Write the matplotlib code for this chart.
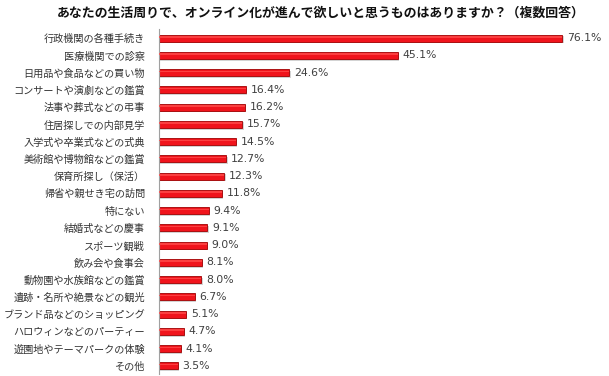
import matplotlib
matplotlib.use("Agg")
import matplotlib.pyplot as plt
import numpy as np

plt.rcParams['font.family'] = ['Noto Sans CJK JP', 'DejaVu Sans']

categories = [
    "行政機関の各種手続き", "医療機関での診察", "日用品や食品などの買い物",
    "コンサートや演劇などの鑑賞", "法事や葬式などの弔事", "住居探しでの内部見学",
    "入学式や卒業式などの式典", "美術館や博物館などの鑑賞", "保育所探し（保活）",
    "帰省や親せき宅の訪問", "特にない", "結婚式などの慶事", "スポーツ観戦",
    "飲み会や食事会", "動物園や水族館などの鑑賞", "遺跡・名所や絶景などの観光",
    "ブランド品などのショッピング", "ハロウィンなどのパーティー",
    "遊園地やテーマパークの体験", "その他",
]
values = [76.1, 45.1, 24.6, 16.4, 16.2, 15.7, 14.5, 12.7, 12.3, 11.8,
          9.4, 9.1, 9.0, 8.1, 8.0, 6.7, 5.1, 4.7, 4.1, 3.5]
title = "あなたの生活周りで、オンライン化が進んで欲しいと思うものはありますか？（複数回答）"

n = len(categories)
fig = plt.figure(figsize=(6.09, 3.76), dpi=100)
top_px, bot_px = 29.5, 374.5
ax = fig.add_axes([159/609, 1 - bot_px/376, (583-159)/609, (bot_px-top_px)/376])

y = np.arange(n)
h = 0.42
# shadow
ax.barh(y + 0.1, values, height=h, left=0.25, color='#a8a8a8', alpha=0.5, zorder=1)
ax.barh(y, values, height=h, color='#f0141c', edgecolor='#a00000', linewidth=0.6, zorder=2)
# highlight stripe
ax.barh(y - h*0.18, values, height=h*0.22, color='#ff4a4a', linewidth=0, zorder=3, alpha=0.8)

for yi, v in zip(y, values):
    ax.text(v + 0.9, yi, f"{v:.1f}%", va='center', ha='left', fontsize=7.8,
            color='#404040', family=['DejaVu Sans'])

ax.set_ylim(n - 0.5, -0.5)
ax.set_xlim(0, 80)
ax.set_yticks(y)
ax.set_yticklabels(categories, fontsize=7.3, color='#333333')
ax.tick_params(axis='y', length=0, pad=10)
ax.set_xticks([])
for s in ['top', 'right', 'bottom']:
    ax.spines[s].set_visible(False)
ax.spines['left'].set_color('#a0a0a0')
ax.spines['left'].set_linewidth(0.8)

fig.text(321/609, 1 - 13/376, title, ha='center', va='center', fontsize=9.3,
         fontweight='bold', color='#111111')

fig.savefig("out.png", dpi=100)
